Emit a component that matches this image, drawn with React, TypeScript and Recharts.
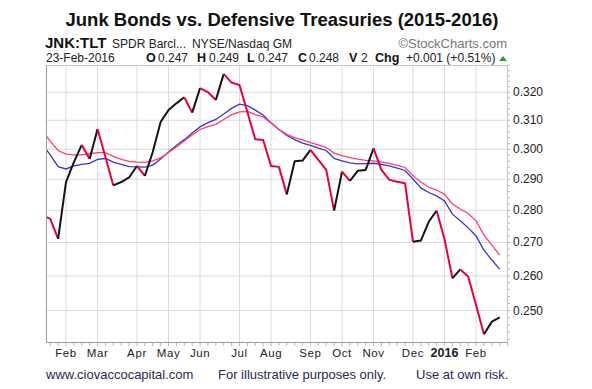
import React from 'react';
import { LineChart, Line, XAxis, YAxis, ReferenceLine } from 'recharts';

// weekly bars, week 0 = week of 2-Feb-2015, first point is 3 weeks earlier
const FIRST_WEEK = -3;

// JNK:TLT weekly close
const PRICE = [
  0.2785, 0.2773, 0.2711, 0.2891, 0.2957, 0.3015, 0.2967, 0.307, 0.2974, 0.288,
  0.2891, 0.2906, 0.2944, 0.2911, 0.2991, 0.3094, 0.3136, 0.316, 0.3182, 0.3127,
  0.3215, 0.32, 0.3172, 0.3267, 0.3235, 0.3226, 0.3129, 0.3034, 0.3032, 0.2944,
  0.2941, 0.2851, 0.296, 0.2962, 0.2998, 0.2964, 0.2931, 0.2799, 0.2925, 0.2895,
  0.2928, 0.2931, 0.3003, 0.2931, 0.2898, 0.2892, 0.2887, 0.2702, 0.2706, 0.2764,
  0.2799, 0.271, 0.2593, 0.2619, 0.2598, 0.2516, 0.2434, 0.2469, 0.2481,
];

// faster moving average (blue)
const MA_FAST = [
  0.3018, 0.2981, 0.2942, 0.2934, 0.2944, 0.2949, 0.2953, 0.2966, 0.2969, 0.2957,
  0.2949, 0.2942, 0.2941, 0.294, 0.2947, 0.2967, 0.2991, 0.3013, 0.3033, 0.3056,
  0.3077, 0.3092, 0.3103, 0.3122, 0.3142, 0.3157, 0.3152, 0.3136, 0.3119, 0.3091,
  0.3068, 0.3047, 0.3033, 0.3021, 0.3013, 0.3004, 0.2996, 0.2969, 0.2961, 0.2954,
  0.2951, 0.2952, 0.2953, 0.2949, 0.2944, 0.2937, 0.2929, 0.2901, 0.2872, 0.2857,
  0.2846, 0.283, 0.2788, 0.2767, 0.2745, 0.272, 0.2677, 0.2647, 0.262,
];

// slower moving average (pink)
const MA_SLOW = [
  0.3063, 0.3028, 0.2996, 0.2984, 0.2981, 0.2981, 0.2985, 0.2989, 0.2989, 0.2976,
  0.2966, 0.2959, 0.2957, 0.2956, 0.2961, 0.2971, 0.2989, 0.3008, 0.3028, 0.3049,
  0.3068, 0.3078, 0.3086, 0.3103, 0.312, 0.313, 0.3131, 0.312, 0.3112, 0.3091,
  0.3068, 0.3051, 0.304, 0.3032, 0.3023, 0.3015, 0.3006, 0.2987, 0.2979, 0.2972,
  0.2967, 0.2963, 0.2961, 0.2957, 0.2953, 0.2946, 0.2939, 0.2912, 0.2891, 0.2874,
  0.2865, 0.2851, 0.282, 0.2804, 0.279, 0.2767, 0.2723, 0.2692, 0.2662,
];

const MONTH_WEEKS = [0, 4, 9, 13, 17, 22, 26, 31, 35, 39, 44, 48, 52];
const MONTH_LABELS = ['Feb', 'Mar', 'Apr', 'May', 'Jun', 'Jul', 'Aug', 'Sep', 'Oct', 'Nov', 'Dec', '2016', 'Feb'];
const Y_TICKS = [0.25, 0.26, 0.27, 0.28, 0.29, 0.3, 0.31, 0.32];

const UP = '#141414';
const DOWN = '#e8003c';
const GRID = '#dadada';
const FONT = '"Liberation Sans", Arial, sans-serif';

// minor ticks: every week on x, every 0.002 on y
const WEEK_TICKS = Array.from({ length: 59 }, (_, i) => i - 2);
const Y_MINOR = Array.from({ length: 45 }, (_, i) => +(0.242 + 0.002 * i).toFixed(3));

// split price line into rising / falling runs
const runs: { from: number; to: number; up: boolean }[] = [];
for (let i = 0; i < PRICE.length - 1; i++) {
  const up = PRICE[i + 1] >= PRICE[i];
  const last = runs[runs.length - 1];
  if (last && last.up === up) last.to = i + 1;
  else runs.push({ from: i, to: i + 1, up });
}

const data = PRICE.map((p, i) => {
  const row: Record<string, number | null> = { week: FIRST_WEEK + i, fast: MA_FAST[i], slow: MA_SLOW[i] };
  runs.forEach((r, k) => {
    row['r' + k] = i >= r.from && i <= r.to ? p : null;
  });
  return row;
});

const XTick = (props: any) => {
  const { x, y, payload } = props;
  const k = MONTH_WEEKS.indexOf(payload.value);
  if (k < 0) return <g />;
  const label = MONTH_LABELS[k];
  const bold = label === '2016';
  return (
    <text x={x} y={y + 9} textAnchor="middle" fontFamily={FONT} fontSize={bold ? 12.5 : 11.5}
      fontWeight={bold ? 'bold' : 'normal'} letterSpacing={bold ? 0 : 0.6} fill="#222">
      {label}
    </text>
  );
};

const YTick = (props: any) => {
  const { x, y, payload } = props;
  if (!Y_TICKS.some(t => Math.abs(t - payload.value) < 1e-6)) return <g />;
  return (
    <text x={x + 1} y={y + 4} fontFamily={FONT} fontSize={12} fill="#222">
      {payload.value.toFixed(3)}
    </text>
  );
};

export default function App() {
  return (
    <div style={{ position: 'absolute', left: 0, top: 0, width: 592, height: 389, background: '#fff', overflow: 'hidden' }}>
      <LineChart width={592} height={389} data={data} margin={{ top: 65, left: 46, right: 24, bottom: 26 }}>
        <XAxis dataKey="week" type="number" domain={[-2.536, 56.05]} allowDataOverflow ticks={WEEK_TICKS}
          interval={0} tick={<XTick />} tickSize={3} tickLine={{ stroke: '#b8b8b8' }} axisLine={false} height={20} />
        <YAxis orientation="right" type="number" scale="log" domain={[0.241, 0.33]} allowDataOverflow
          ticks={Y_MINOR} interval={0} tick={<YTick />} tickSize={2} tickLine={{ stroke: '#b8b8b8' }}
          axisLine={false} width={60} />
        {MONTH_WEEKS.map(w => (
          <ReferenceLine key={'v' + w} x={w} stroke={GRID} strokeWidth={1} />
        ))}
        {Y_TICKS.map(t => (
          <ReferenceLine key={'h' + t} y={t} stroke={GRID} strokeWidth={1} />
        ))}
        <Line dataKey="fast" stroke="#3a34c8" strokeWidth={1.3} dot={false} isAnimationActive={false} />
        <Line dataKey="slow" stroke="#ff3d6e" strokeWidth={1.3} dot={false} isAnimationActive={false} />
        {runs.map((r, k) => (
          <Line key={k} dataKey={'r' + k} stroke={r.up ? UP : DOWN} strokeWidth={2} dot={false}
            connectNulls={false} strokeLinejoin="round" isAnimationActive={false} />
        ))}
      </LineChart>
      <div style={{
        position: 'absolute', left: 46, top: 65, width: 462, height: 278, boxSizing: 'border-box',
        borderLeft: '1px solid #9c9c9c', borderBottom: '1px solid #9c9c9c',
        borderTop: '1px solid #c4c4c4', borderRight: '1px solid #c4c4c4', pointerEvents: 'none',
      }} />
      <svg width={592} height={389} style={{ position: 'absolute', left: 0, top: 0, pointerEvents: 'none' }} fontFamily={FONT}>
        <text x={282} y={26} textAnchor="middle" fontSize={18.5} fontWeight="bold" fill="#111">
          Junk Bonds vs. Defensive Treasuries (2015-2016)
        </text>
        <text x={45} y={48} fontSize={15} fontWeight="bold" fill="#111">JNK:TLT</text>
        <text x={112} y={48} fontSize={12} fill="#222">SPDR Barcl...</text>
        <text x={192} y={48} fontSize={12} fill="#222">NYSE/Nasdaq GM</text>
        <text x={507} y={48} fontSize={13} fill="#777" textAnchor="end">©StockCharts.com</text>
        <text x={46} y={62} fontSize={12} fill="#222">23-Feb-2016</text>
        <text x={146} y={62} fontSize={12.5} fontWeight="bold" fill="#111">O</text>
        <text x={158} y={62} fontSize={12} fill="#222">0.247</text>
        <text x={197} y={62} fontSize={12.5} fontWeight="bold" fill="#111">H</text>
        <text x={209} y={62} fontSize={12} fill="#222">0.249</text>
        <text x={247} y={62} fontSize={12.5} fontWeight="bold" fill="#111">L</text>
        <text x={258} y={62} fontSize={12} fill="#222">0.247</text>
        <text x={298} y={62} fontSize={12.5} fontWeight="bold" fill="#111">C</text>
        <text x={309} y={62} fontSize={12} fill="#222">0.248</text>
        <text x={349} y={62} fontSize={12.5} fontWeight="bold" fill="#111">V</text>
        <text x={361} y={62} fontSize={12} fill="#222">2</text>
        <text x={375} y={62} fontSize={12.5} fontWeight="bold" fill="#111">Chg</text>
        <text x={406} y={62} fontSize={12} fill="#222">+0.001 (+0.51%)</text>
        <polygon points="499,61 507,61 503,56" fill="#2e9a3e" />
        <text x={46} y={379} fontSize={13} fill="#2a2a50">www.ciovaccocapital.com</text>
        <text x={218} y={379} fontSize={13} fill="#2a2a50">For illustrative purposes only.</text>
        <text x={416} y={379} fontSize={13} fill="#2a2a50">Use at own risk.</text>
      </svg>
    </div>
  );
}
